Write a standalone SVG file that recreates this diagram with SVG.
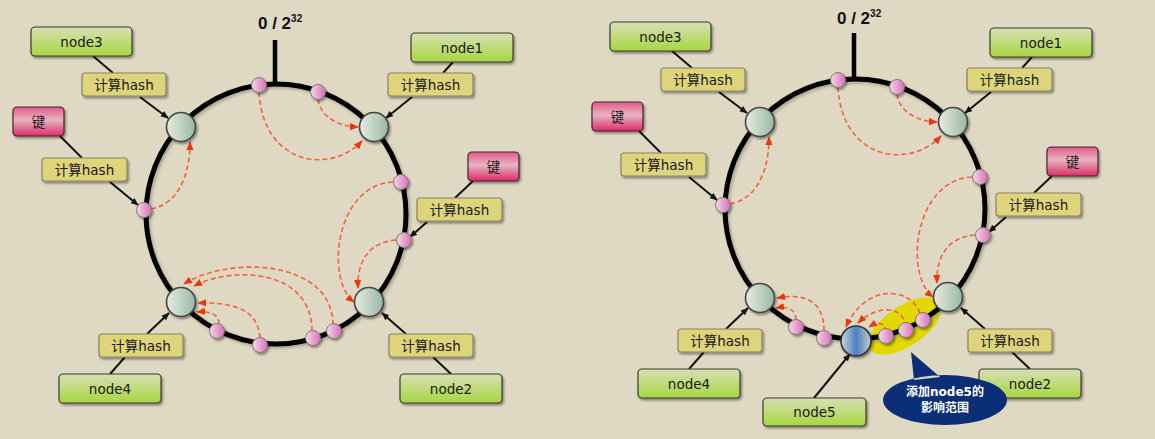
<svg xmlns="http://www.w3.org/2000/svg" width="1155" height="439" viewBox="0 0 1155 439">
<defs>
<style>
.ring{fill:none;stroke:#000;stroke-width:5}
.ringsh{fill:none;stroke:#8a8578;stroke-width:5;opacity:.6;filter:url(#blur)}
.tick{stroke:#000;stroke-width:4.5}
.dash{fill:none;stroke:#f0643a;stroke-width:1.6;stroke-dasharray:5 3;marker-end:url(#ahr)}
.conn{stroke:#111;stroke-width:2;fill:none}
.arr{marker-end:url(#ahb)}
.nodebox{fill:url(#gGreen);stroke:#3a3a30;stroke-width:1.2;filter:url(#sh)}
.hashbox{fill:#ddd47c;stroke:#8a8462;stroke-width:1.2;filter:url(#sh)}
.keybox{fill:url(#gKey);stroke:#4a2030;stroke-width:1.2;filter:url(#sh)}
.hnode{fill:url(#gNode);stroke:#444;stroke-width:1.6;filter:url(#sh)}
.n5{fill:url(#gBlue);stroke:#333;stroke-width:1.6;filter:url(#sh)}
.key{fill:url(#gPink);stroke:#7a7a7a;stroke-width:1;filter:url(#sh)}
.lbl{font-family:"DejaVu Sans","Noto Sans CJK SC",sans-serif;font-size:13.5px;fill:#1a1a1a;text-anchor:middle}
.zero{font-family:"Liberation Sans",Arial,sans-serif;font-weight:bold;font-size:17px;fill:#111}
.call{font-family:"DejaVu Sans","Noto Sans CJK SC",sans-serif;font-weight:bold;font-size:12px;fill:#fff;text-anchor:middle}
</style>
<linearGradient id="gGreen" x1="0" y1="0" x2="0" y2="1"><stop offset="0" stop-color="#d8dfb4"/><stop offset="1" stop-color="#a6d640"/></linearGradient>
<linearGradient id="gKey" x1="0" y1="0" x2="0" y2="1"><stop offset="0" stop-color="#e05a88"/><stop offset="0.45" stop-color="#e8b4c0"/><stop offset="1" stop-color="#dc2a68"/></linearGradient>
<linearGradient id="gNode" x1="0" y1="0" x2="1" y2="0"><stop offset="0" stop-color="#e8eade"/><stop offset="1" stop-color="#98b8a6"/></linearGradient>
<linearGradient id="gBlue" x1="0" y1="0" x2="1" y2="0"><stop offset="0" stop-color="#cdd6dc"/><stop offset="0.5" stop-color="#4a80c2"/><stop offset="1" stop-color="#c4ccc8"/></linearGradient>
<linearGradient id="gPink" x1="0" y1="0" x2="1" y2="0"><stop offset="0" stop-color="#f2dbe0"/><stop offset="1" stop-color="#dc6cc0"/></linearGradient>
<filter id="sh" x="-30%" y="-30%" width="160%" height="160%"><feDropShadow dx="1.5" dy="2" stdDeviation="1" flood-color="#000" flood-opacity="0.4"/></filter>
<filter id="blur"><feGaussianBlur stdDeviation="1.5"/></filter>
<marker id="ahr" viewBox="0 0 10 10" refX="9" refY="5" markerWidth="9" markerHeight="9" markerUnits="userSpaceOnUse" orient="auto"><path d="M0,1 L10,5 L0,9 z" fill="#e8360e"/></marker>
<marker id="ahb" viewBox="0 0 10 10" refX="9" refY="5" markerWidth="8" markerHeight="8" markerUnits="userSpaceOnUse" orient="auto"><path d="M0,1 L10,5 L0,9 z" fill="#111"/></marker>
</defs>
<rect x="0" y="0" width="1155" height="439" fill="#dfd8c2"/>

<!-- LEFT DIAGRAM -->
<g id="left">
<g id="L-ring">
<circle class="ringsh" cx="278" cy="216" r="130"/>
<circle class="ring" cx="276" cy="214" r="130"/>
<line class="tick" x1="275" y1="40" x2="275" y2="84"/>
<text class="zero" x="258" y="29">0 / 2<tspan dy="-7" font-size="10">32</tspan></text>
</g>
<g id="L-connectors">
<line class="conn" x1="93" y1="56" x2="113" y2="73"/>
<line class="conn arr" x1="140" y1="97" x2="168" y2="118"/>
<line class="conn" x1="60" y1="136" x2="82" y2="158"/>
<line class="conn arr" x1="110" y1="182" x2="138" y2="205"/>
<line class="conn" x1="453" y1="62" x2="443" y2="73"/>
<line class="conn arr" x1="412" y1="97" x2="386" y2="118"/>
<line class="conn" x1="473" y1="181" x2="455" y2="198"/>
<line class="conn arr" x1="427" y1="222" x2="410" y2="237"/>
<line class="conn" x1="451" y1="374" x2="433" y2="357"/>
<line class="conn arr" x1="406" y1="334" x2="382" y2="313"/>
<line class="conn" x1="110" y1="374" x2="125" y2="357"/>
<line class="conn arr" x1="147" y1="334" x2="169" y2="313"/>
<path class="dash" d="M259,92 C263,165 330,175 362,141"/>
<path class="dash" d="M318,99 C320,115 335,126 358,127"/>
<path class="dash" d="M151,209 C175,205 190,180 190,142"/>
<path class="dash" d="M393,182 C335,185 325,280 354,302"/>
<path class="dash" d="M396,240 C370,242 357,260 358,288"/>
<path class="dash" d="M219,324 C219,314 210,311 197,312"/>
<path class="dash" d="M260,338 C258,310 235,302 198,303"/>
<path class="dash" d="M312,331 C312,270 235,265 194,286"/>
<path class="dash" d="M333,325 C333,260 230,255 184,284"/>
</g>
<g id="L-keys">
<circle class="key" cx="259" cy="85" r="7.5"/>
<circle class="key" cx="318" cy="92" r="7.5"/>
<circle class="key" cx="401" cy="182" r="7.5"/>
<circle class="key" cx="404" cy="240" r="7.5"/>
<circle class="key" cx="144" cy="210" r="7.5"/>
<circle class="key" cx="217" cy="331" r="7.5"/>
<circle class="key" cx="260" cy="345" r="7.5"/>
<circle class="key" cx="313" cy="338" r="7.5"/>
<circle class="key" cx="334" cy="331" r="7.5"/>
</g>
<g id="L-node3"><circle class="hnode" cx="181" cy="127" r="14.5"/><rect class="nodebox" x="31" y="27" width="101" height="29" rx="4"/><text class="lbl" x="81.5" y="46.5">node3</text><rect class="hashbox" x="82" y="73" width="84" height="23" rx="3"/><text class="lbl" x="124" y="89.5">计算hash</text></g>
<g id="L-node1"><circle class="hnode" cx="374" cy="127" r="14.5"/><rect class="nodebox" x="411" y="33" width="102" height="29" rx="4"/><text class="lbl" x="462" y="52.5">node1</text><rect class="hashbox" x="388" y="73" width="85" height="23" rx="3"/><text class="lbl" x="430.5" y="89.5">计算hash</text></g>
<g id="L-node2"><circle class="hnode" cx="369" cy="302" r="14.5"/><rect class="hashbox" x="389" y="334" width="84" height="23" rx="3"/><text class="lbl" x="431" y="350.5">计算hash</text><rect class="nodebox" x="400" y="374" width="102" height="29" rx="4"/><text class="lbl" x="451" y="393.5">node2</text></g>
<g id="L-node4"><circle class="hnode" cx="181" cy="302" r="14.5"/><rect class="hashbox" x="99" y="334" width="84" height="23" rx="3"/><text class="lbl" x="141" y="350.5">计算hash</text><rect class="nodebox" x="59" y="374" width="102" height="29" rx="4"/><text class="lbl" x="110" y="393.5">node4</text></g>
<g id="L-keyA"><rect class="keybox" x="13" y="107" width="51" height="29" rx="4"/><text class="lbl" x="38.5" y="126.5">键</text><rect class="hashbox" x="42" y="158" width="85" height="23" rx="3"/><text class="lbl" x="84.5" y="174.5">计算hash</text></g>
<g id="L-keyB"><rect class="keybox" x="468" y="152" width="51" height="29" rx="4"/><text class="lbl" x="493.5" y="171.5">键</text><rect class="hashbox" x="417" y="198" width="85" height="23" rx="3"/><text class="lbl" x="459.5" y="214.5">计算hash</text></g>
</g>

<!-- RIGHT DIAGRAM -->
<g id="right" transform="translate(579,-5)">
<g id="R-ring">
<ellipse id="R-range" cx="326" cy="331" rx="42" ry="20" transform="rotate(-34 326 331)" fill="#e2d800"/>
<circle class="ringsh" cx="278" cy="216" r="130"/>
<circle class="ring" cx="276" cy="214" r="130"/>
<line class="tick" x1="275" y1="38" x2="275" y2="84"/>
<text class="zero" x="258" y="29">0 / 2<tspan dy="-7" font-size="10">32</tspan></text>
</g>
<g id="R-connectors">
<line class="conn" x1="93" y1="56" x2="113" y2="73"/>
<line class="conn arr" x1="140" y1="97" x2="168" y2="118"/>
<line class="conn" x1="60" y1="136" x2="82" y2="158"/>
<line class="conn arr" x1="110" y1="182" x2="138" y2="205"/>
<line class="conn" x1="453" y1="62" x2="443" y2="73"/>
<line class="conn arr" x1="412" y1="97" x2="386" y2="118"/>
<line class="conn" x1="473" y1="181" x2="455" y2="198"/>
<line class="conn arr" x1="427" y1="222" x2="410" y2="237"/>
<line class="conn" x1="451" y1="374" x2="433" y2="357"/>
<line class="conn arr" x1="406" y1="334" x2="382" y2="313"/>
<line class="conn" x1="110" y1="374" x2="125" y2="357"/>
<line class="conn arr" x1="147" y1="334" x2="169" y2="313"/>
<line class="conn arr" x1="235" y1="403" x2="271" y2="359"/>
<path class="dash" d="M259,92 C263,165 330,175 362,141"/>
<path class="dash" d="M318,99 C320,115 335,126 358,127"/>
<path class="dash" d="M151,209 C175,205 190,180 190,142"/>
<path class="dash" d="M393,182 C335,185 325,280 354,302"/>
<path class="dash" d="M396,240 C370,242 357,260 358,288"/>
<path class="dash" d="M217,325 C217,314 208,311 197,313"/>
<path class="dash" d="M245,336 C245,305 225,298 198,303"/>
<path class="dash" d="M307,337 C305,326 298,327 290,332"/>
<path class="dash" d="M327,332 C325,312 300,308 279,328"/>
<path class="dash" d="M341,318 C330,290 285,290 267,332"/>
</g>
<g id="R-keys">
<circle class="key" cx="259" cy="85" r="7.5"/>
<circle class="key" cx="318" cy="92" r="7.5"/>
<circle class="key" cx="401" cy="182" r="7.5"/>
<circle class="key" cx="404" cy="240" r="7.5"/>
<circle class="key" cx="144" cy="210" r="7.5"/>
<circle class="key" cx="217" cy="332" r="7.5"/>
<circle class="key" cx="245" cy="343" r="7.5"/>
<circle class="key" cx="307" cy="341" r="7.5"/>
<circle class="key" cx="327" cy="335" r="7.5"/>
<circle class="key" cx="344" cy="325" r="7.5"/>
</g>
<g id="R-node3"><circle class="hnode" cx="181" cy="127" r="14.5"/><rect class="nodebox" x="31" y="27" width="101" height="29" rx="4"/><text class="lbl" x="81.5" y="46.5">node3</text><rect class="hashbox" x="82" y="73" width="84" height="23" rx="3"/><text class="lbl" x="124" y="89.5">计算hash</text></g>
<g id="R-node1"><circle class="hnode" cx="374" cy="127" r="14.5"/><rect class="nodebox" x="411" y="33" width="102" height="29" rx="4"/><text class="lbl" x="462" y="52.5">node1</text><rect class="hashbox" x="388" y="73" width="85" height="23" rx="3"/><text class="lbl" x="430.5" y="89.5">计算hash</text></g>
<g id="R-node2"><circle class="hnode" cx="369" cy="302" r="14.5"/><rect class="hashbox" x="389" y="334" width="84" height="23" rx="3"/><text class="lbl" x="431" y="350.5">计算hash</text><rect class="nodebox" x="400" y="374" width="102" height="29" rx="4"/><text class="lbl" x="451" y="393.5">node2</text></g>
<g id="R-node4"><circle class="hnode" cx="181" cy="303" r="14.5"/><rect class="hashbox" x="99" y="334" width="84" height="23" rx="3"/><text class="lbl" x="141" y="350.5">计算hash</text><rect class="nodebox" x="59" y="374" width="102" height="29" rx="4"/><text class="lbl" x="110" y="393.5">node4</text></g>
<g id="R-node5"><circle class="n5" cx="277" cy="346" r="15"/><rect class="nodebox" x="184" y="403" width="103" height="28" rx="4"/><text class="lbl" x="235.5" y="422">node5</text></g>
<g id="R-keyA"><rect class="keybox" x="13" y="107" width="51" height="29" rx="4"/><text class="lbl" x="38.5" y="126.5">键</text><rect class="hashbox" x="42" y="158" width="85" height="23" rx="3"/><text class="lbl" x="84.5" y="174.5">计算hash</text></g>
<g id="R-keyB"><rect class="keybox" x="468" y="152" width="51" height="29" rx="4"/><text class="lbl" x="493.5" y="171.5">键</text><rect class="hashbox" x="417" y="198" width="85" height="23" rx="3"/><text class="lbl" x="459.5" y="214.5">计算hash</text></g>
</g>

<g id="callout">
<path d="M883,400 A62,25 0 1 0 1007,400 A62,25 0 1 0 883,400 Z M914,380 L911,352 L940,377 Z" fill="#0b2f76"/>
<text class="call" x="945" y="396">添加node5的</text>
<text class="call" x="945" y="412">影响范围</text>
</g>
</svg>
